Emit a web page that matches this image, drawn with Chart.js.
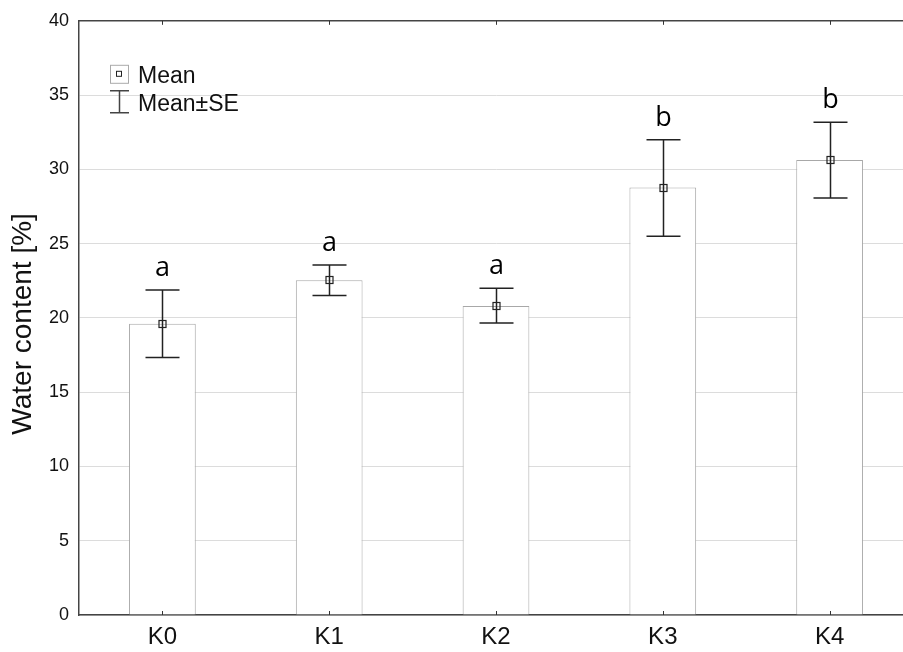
<!DOCTYPE html>
<html>
<head>
<meta charset="utf-8">
<script src="https://cdn.jsdelivr.net/npm/chart.js@4"></script>
<style>
  html, body { margin: 0; padding: 0; background: #fff; overflow: hidden; }
  #wrap { position: relative; width: 915px; height: 652px; }
</style>
</head>
<body>
<div id="wrap"><canvas id="c"></canvas></div>
<script>
const categories = ['K0', 'K1', 'K2', 'K3', 'K4'];
const means = [19.6, 22.53, 20.8, 28.77, 30.63];
const seUpper = [21.88, 23.56, 22.0, 32.0, 33.17];
const seLower = [17.33, 21.5, 19.66, 25.5, 28.07];
const groupLetters = ['a', 'a', 'a', 'b', 'b'];
const yMin = 0, yMax = 40, yStep = 5;
const yTitle = 'Water content [%]';
const legendMean = 'Mean';
const legendSE = 'Mean±SE';

const errorPlugin = {
  id: 'errorBars',
  afterDatasetsDraw(chart) {
    const ctx = chart.ctx;
    const x = chart.scales.x, y = chart.scales.y;
    const ca = chart.chartArea;
    ctx.save();
    // frame top line
    ctx.strokeStyle = '#444';
    ctx.lineWidth = 1.5;
    ctx.beginPath();
    ctx.moveTo(ca.left, ca.top);
    ctx.lineTo(ca.right, ca.top);
    ctx.stroke();
    // inner category ticks
    ctx.lineWidth = 1;
    ctx.strokeStyle = '#333';
    categories.forEach((c, i) => {
      const px = Math.round(x.getPixelForValue(i)) + 0.5;
      ctx.beginPath();
      ctx.moveTo(px, ca.bottom);
      ctx.lineTo(px, ca.bottom - 4);
      ctx.moveTo(px, ca.top);
      ctx.lineTo(px, ca.top + 4);
      ctx.stroke();
    });
    // error bars
    ctx.strokeStyle = '#222';
    ctx.lineWidth = 1.5;
    categories.forEach((c, i) => {
      const px = Math.round(x.getPixelForValue(i)) + 0.5;
      const yu = y.getPixelForValue(seUpper[i]);
      const yl = y.getPixelForValue(seLower[i]);
      const ym = y.getPixelForValue(means[i]);
      ctx.beginPath();
      ctx.moveTo(px, yu); ctx.lineTo(px, yl);
      ctx.moveTo(px - 17, yu); ctx.lineTo(px + 17, yu);
      ctx.moveTo(px - 17, yl); ctx.lineTo(px + 17, yl);
      ctx.stroke();
      ctx.save();
      ctx.lineWidth = 1.2;
      ctx.strokeRect(px - 3.5, Math.round(ym) - 3.5, 7, 7);
      ctx.restore();
      // letters
      ctx.fillStyle = '#000';
      ctx.font = '27px "Open Sans"';
      ctx.textAlign = 'center';
      ctx.textBaseline = 'alphabetic';
      ctx.fillText(groupLetters[i], px, yu - 14);
    });
    // legend
    const lx = ca.left + 31, ly = ca.top + 44;
    ctx.strokeStyle = '#aaa';
    ctx.lineWidth = 1;
    ctx.strokeRect(lx + 0.5, ly + 0.5, 18, 18);
    ctx.strokeStyle = '#222';
    ctx.strokeRect(lx + 6.5, ly + 6.5, 5, 5);
    ctx.strokeStyle = '#444';
    ctx.lineWidth = 1.5;
    ctx.beginPath();
    ctx.moveTo(lx + 9.5, ly + 26); ctx.lineTo(lx + 9.5, ly + 48);
    ctx.moveTo(lx, ly + 26); ctx.lineTo(lx + 19, ly + 26);
    ctx.moveTo(lx, ly + 48); ctx.lineTo(lx + 19, ly + 48);
    ctx.stroke();
    ctx.fillStyle = '#111';
    ctx.font = '23px "Liberation Sans", Arial, sans-serif';
    ctx.textAlign = 'left';
    ctx.textBaseline = 'alphabetic';
    ctx.fillText(legendMean, lx + 28, ly + 18);
    ctx.fillText(legendSE, lx + 28, ly + 46);
    // y axis title
    ctx.save();
    ctx.translate(23, (ca.top + ca.bottom) / 2 + 6);
    ctx.rotate(-Math.PI / 2);
    ctx.font = '28px "Liberation Sans", Arial, sans-serif';
    ctx.textAlign = 'center';
    ctx.textBaseline = 'middle';
    ctx.fillStyle = '#111';
    ctx.fillText(yTitle, 0, 0);
    ctx.restore();
    ctx.restore();
  }
};

new Chart(document.getElementById('c'), {
  type: 'bar',
  data: {
    labels: categories,
    datasets: [{
      data: means,
      backgroundColor: '#ffffff',
      borderColor: '#a8a8a8',
      borderWidth: 1,
      barPercentage: 0.4,
      categoryPercentage: 1.0
    }]
  },
  options: {
    responsive: true,
    maintainAspectRatio: false,
    animation: false,
    layout: { padding: { top: 19, right: 2, left: 0, bottom: 0 } },
    plugins: { legend: { display: false }, tooltip: { enabled: false } },
    scales: {
      x: {
        grid: { display: false, drawTicks: false },
        border: { display: true, color: '#444', width: 1.5 },
        ticks: { color: '#111', font: { family: '"Liberation Sans", Arial, sans-serif', size: 24 }, padding: 8 },
        afterFit(s) { s.height = 37; }
      },
      y: {
        min: yMin, max: yMax,
        grid: { color: '#dcdcdc', lineWidth: 1, drawTicks: false },
        border: { display: true, color: '#444', width: 1.5 },
        ticks: { stepSize: yStep, color: '#111', font: { family: '"Liberation Sans", Arial, sans-serif', size: 18 }, padding: 10 },
        title: { display: false },
        afterFit(s) { s.width = 79; }
      }
    }
  },
  plugins: [errorPlugin]
});
</script>
</body>
</html>
